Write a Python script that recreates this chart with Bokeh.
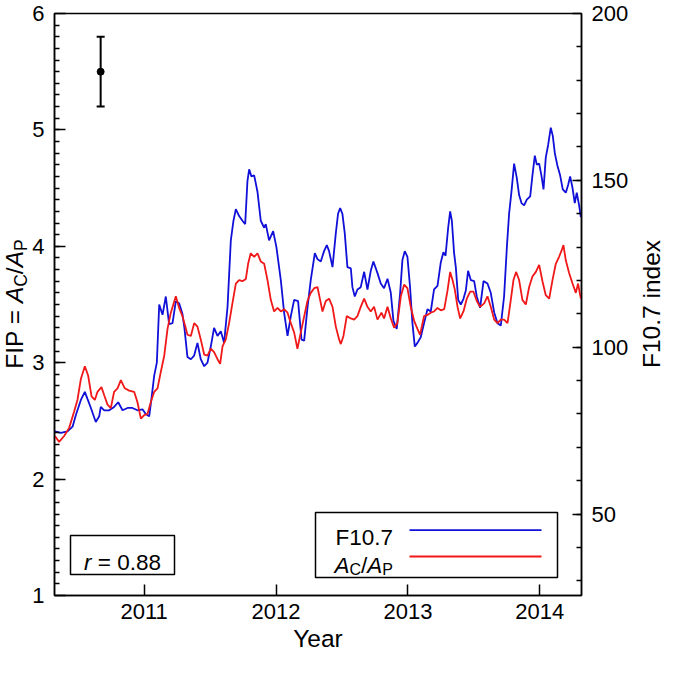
import math
from bokeh.plotting import figure
from bokeh.layouts import row
from bokeh.models import (Range1d, LinearAxis, FixedTicker, Label, BoxAnnotation,
                          Arrow, Whisker, ColumnDataSource, TeeHead, Div)
from bokeh.embed import file_html
from bokeh.resources import INLINE

# ---------------- data ----------------
f107_years = [2010.323, 2010.368, 2010.419, 2010.457, 2010.482, 2010.520, 2010.550, 2010.570, 2010.596, 2010.633,
              2010.659, 2010.671, 2010.697, 2010.735, 2010.772, 2010.803, 2010.836, 2010.874, 2010.911, 2010.949,
              2010.987, 2011.012, 2011.038, 2011.055, 2011.076, 2011.096, 2011.114, 2011.139, 2011.164, 2011.189,
              2011.215, 2011.240, 2011.265, 2011.290, 2011.305, 2011.328, 2011.354, 2011.379, 2011.404, 2011.429,
              2011.455, 2011.480, 2011.505, 2011.530, 2011.556, 2011.581, 2011.606, 2011.632, 2011.657, 2011.677,
              2011.695, 2011.720, 2011.745, 2011.766, 2011.783, 2011.796, 2011.813, 2011.834, 2011.859, 2011.884,
              2011.910, 2011.922, 2011.947, 2011.978, 2012.003, 2012.036, 2012.061, 2012.087, 2012.112, 2012.137,
              2012.167, 2012.193, 2012.213, 2012.238, 2012.263, 2012.294, 2012.314, 2012.339, 2012.364, 2012.385,
              2012.402, 2012.428, 2012.453, 2012.470, 2012.486, 2012.503, 2012.521, 2012.541, 2012.567, 2012.579,
              2012.597, 2012.617, 2012.642, 2012.668, 2012.693, 2012.718, 2012.738, 2012.769, 2012.794, 2012.819,
              2012.845, 2012.870, 2012.890, 2012.915, 2012.941, 2012.958, 2012.976, 2012.996, 2013.016, 2013.034,
              2013.052, 2013.072, 2013.097, 2013.122, 2013.148, 2013.173, 2013.198, 2013.224, 2013.249, 2013.269,
              2013.285, 2013.305, 2013.320, 2013.333, 2013.350, 2013.363, 2013.381, 2013.401, 2013.421, 2013.439,
              2013.456, 2013.477, 2013.502, 2013.522, 2013.547, 2013.573, 2013.603, 2013.628, 2013.654, 2013.679,
              2013.704, 2013.729, 2013.750, 2013.767, 2013.785, 2013.805, 2013.825, 2013.843, 2013.861, 2013.881,
              2013.901, 2013.927, 2013.944, 2013.962, 2013.977, 2013.995, 2014.012, 2014.028, 2014.045, 2014.063,
              2014.083, 2014.098, 2014.114, 2014.134, 2014.154, 2014.174, 2014.197, 2014.215, 2014.230, 2014.248,
              2014.265, 2014.280, 2014.298, 2014.311]
f107_index = [74.8, 74.3, 74.8, 76.2, 79.7, 84.2, 86.6, 84.5, 81.8, 77.6,
              79.3, 82.1, 81.1, 81.1, 82.1, 83.5, 81.1, 81.8, 81.8, 81.1,
              81.4, 80.0, 79.3, 84.5, 91.5, 95.4, 112.8, 109.7, 115.2, 106.9,
              107.2, 113.8, 113.2, 110.0, 105.8, 97.1, 96.4, 97.5, 101.3, 96.4,
              94.3, 95.4, 100.2, 105.8, 103.4, 104.8, 101.3, 112.1, 132.0, 137.9,
              141.4, 139.3, 137.9, 136.9, 149.8, 153.3, 151.2, 151.5, 146.6, 137.9,
              135.8, 136.9, 132.0, 134.8, 129.9, 120.1, 110.4, 103.4, 109.3, 114.2,
              113.8, 102.3, 102.0, 111.8, 120.1, 128.2, 126.4, 125.7, 128.8, 130.6,
              128.8, 124.0, 134.1, 140.0, 141.7, 140.0, 134.1, 124.0, 123.6, 118.0,
              115.2, 117.3, 118.0, 122.6, 117.3, 122.9, 125.7, 122.2, 119.1, 117.7,
              120.5, 116.3, 107.9, 105.5, 116.3, 126.1, 128.8, 127.1, 118.0, 107.2,
              100.2, 101.3, 103.0, 107.2, 111.4, 110.7, 117.3, 118.4, 125.4, 128.5,
              127.4, 135.8, 140.7, 137.9, 128.2, 124.0, 114.2, 112.8, 114.5, 117.0,
              122.9, 120.1, 119.8, 115.2, 111.8, 119.8, 119.1, 116.3, 110.4, 107.2,
              106.5, 115.2, 129.9, 140.0, 146.6, 155.0, 150.8, 145.6, 143.2, 142.5,
              144.2, 145.2, 151.5, 157.4, 154.7, 155.0, 151.5, 147.3, 156.8, 160.6,
              165.8, 163.4, 158.1, 154.3, 151.5, 147.3, 146.3, 148.7, 151.2, 147.7,
              143.2, 146.3, 142.5, 139.0]

fip_years = [2010.323, 2010.355, 2010.393, 2010.431, 2010.469, 2010.494, 2010.520, 2010.550, 2010.575, 2010.601,
             2010.626, 2010.646, 2010.676, 2010.697, 2010.722, 2010.747, 2010.772, 2010.798, 2010.823, 2010.853,
             2010.886, 2010.924, 2010.949, 2010.975, 2011.000, 2011.025, 2011.050, 2011.076, 2011.101, 2011.126,
             2011.152, 2011.177, 2011.202, 2011.240, 2011.265, 2011.290, 2011.310, 2011.328, 2011.354, 2011.379,
             2011.404, 2011.429, 2011.455, 2011.480, 2011.505, 2011.530, 2011.556, 2011.576, 2011.594, 2011.619,
             2011.644, 2011.669, 2011.695, 2011.720, 2011.745, 2011.771, 2011.788, 2011.808, 2011.834, 2011.859,
             2011.884, 2011.910, 2011.935, 2011.960, 2011.985, 2012.011, 2012.036, 2012.061, 2012.087, 2012.112,
             2012.137, 2012.162, 2012.182, 2012.208, 2012.238, 2012.263, 2012.289, 2012.314, 2012.334, 2012.352,
             2012.377, 2012.402, 2012.428, 2012.453, 2012.478, 2012.491, 2012.511, 2012.536, 2012.567, 2012.592,
             2012.617, 2012.642, 2012.668, 2012.693, 2012.718, 2012.743, 2012.769, 2012.799, 2012.819, 2012.845,
             2012.870, 2012.895, 2012.920, 2012.946, 2012.971, 2012.996, 2013.021, 2013.047, 2013.072, 2013.092,
             2013.122, 2013.148, 2013.173, 2013.198, 2013.224, 2013.249, 2013.275, 2013.300, 2013.320, 2013.338,
             2013.355, 2013.376, 2013.396, 2013.421, 2013.446, 2013.472, 2013.497, 2013.522, 2013.547, 2013.578,
             2013.603, 2013.628, 2013.654, 2013.679, 2013.704, 2013.729, 2013.755, 2013.780, 2013.800, 2013.820,
             2013.843, 2013.868, 2013.894, 2013.919, 2013.944, 2013.970, 2013.995, 2014.020, 2014.045, 2014.071,
             2014.096, 2014.121, 2014.146, 2014.164, 2014.179, 2014.197, 2014.222, 2014.248, 2014.273, 2014.290,
             2014.311]
fip_ratio = [2.37, 2.32, 2.37, 2.44, 2.58, 2.68, 2.86, 2.97, 2.89, 2.71,
             2.68, 2.75, 2.79, 2.72, 2.64, 2.61, 2.75, 2.78, 2.85, 2.78,
             2.76, 2.75, 2.66, 2.52, 2.55, 2.56, 2.66, 2.75, 2.78, 2.92,
             3.06, 3.29, 3.43, 3.57, 3.47, 3.40, 3.32, 3.24, 3.23, 3.34,
             3.31, 3.20, 3.07, 3.06, 3.12, 3.09, 3.03, 2.99, 3.14, 3.20,
             3.34, 3.51, 3.68, 3.71, 3.70, 3.72, 3.85, 3.94, 3.91, 3.94,
             3.87, 3.85, 3.71, 3.54, 3.44, 3.47, 3.44, 3.46, 3.43, 3.34,
             3.26, 3.12, 3.23, 3.37, 3.53, 3.60, 3.64, 3.65, 3.54, 3.44,
             3.53, 3.55, 3.48, 3.31, 3.20, 3.16, 3.23, 3.40, 3.38, 3.37,
             3.40, 3.48, 3.55, 3.48, 3.44, 3.48, 3.37, 3.43, 3.38, 3.48,
             3.38, 3.30, 3.34, 3.57, 3.67, 3.64, 3.48, 3.36, 3.29, 3.24,
             3.40, 3.41, 3.43, 3.44, 3.47, 3.45, 3.46, 3.62, 3.78, 3.71,
             3.63, 3.48, 3.38, 3.44, 3.55, 3.61, 3.61, 3.53, 3.48, 3.51,
             3.57, 3.48, 3.37, 3.34, 3.37, 3.37, 3.34, 3.54, 3.71, 3.78,
             3.71, 3.54, 3.50, 3.65, 3.74, 3.78, 3.84, 3.70, 3.58, 3.55,
             3.71, 3.85, 3.91, 3.96, 4.01, 3.88, 3.77, 3.68, 3.60, 3.68,
             3.55]

err_year = [2010.67]
err_fip = [5.5]
err_low = [5.2]
err_high = [5.8]
r_value = 0.88

year_ticks = [2011, 2012, 2013, 2014]
fip_ticks = [1, 2, 3, 4, 5, 6]
fip_minor = [round(1 + 0.1 * i, 1) for i in range(1, 50)]
f107_ticks = [50, 100, 150, 200]
f107_minor = list(range(30, 200, 10))

# ---------------- layout ----------------
FONT = "Liberation Sans"
FS = 22          # tick labels
TS = 24.5        # axis titles
BS = 22.5        # text inside boxes
SUB = 16
TSUB = 17.5
H = 659
LEFT_W, RIGHT_W = 28, 27
W = 659 - LEFT_W - RIGHT_W
ML, MR, MT, MB = 26, 51, 13, 64
BLUE = "#1010d8"
RED = "#f01818"
LW = 1.8

p = figure(width=W, height=H, output_backend="svg", toolbar_location=None,
           x_range=Range1d(2010.32, 2014.316), y_range=Range1d(1, 6),
           min_border_left=ML, min_border_right=MR, min_border_top=MT, min_border_bottom=MB)
p.grid.visible = False
p.outline_line_color = "black"
p.outline_line_width = 1.5
p.background_fill_color = "white"
p.border_fill_color = "white"

p.extra_y_ranges = {"f107": Range1d(25.6, 200)}
right = LinearAxis(y_range_name="f107")
p.add_layout(right, "right")

xa = p.xaxis[0]
ya = p.yaxis[0]
xa.ticker = FixedTicker(ticks=year_ticks, minor_ticks=[])
ya.ticker = FixedTicker(ticks=fip_ticks, minor_ticks=fip_minor)
right.ticker = FixedTicker(ticks=f107_ticks, minor_ticks=f107_minor)

for ax, tin, min_in in ((xa, 11, 0), (ya, 11, 5), (right, 9, 5)):
    ax.major_tick_in = tin
    ax.major_tick_out = 0
    ax.minor_tick_in = min_in
    ax.minor_tick_out = 0
    ax.axis_line_width = 1.5
    ax.major_tick_line_width = 1.5
    ax.minor_tick_line_width = 1.5
    ax.axis_line_color = "black"
    ax.major_tick_line_color = "black"
    ax.minor_tick_line_color = "black"
    ax.major_label_text_font = FONT
    ax.major_label_text_font_size = f"{FS}px"
    ax.major_label_text_color = "black"
    ax.major_label_standoff = 10
xa.major_label_standoff = 8

xa.axis_label = "Year"
xa.axis_label_text_font = FONT
xa.axis_label_text_font_size = f"{TS}px"
xa.axis_label_text_font_style = "normal"
xa.axis_label_text_color = "black"
xa.axis_label_standoff = 3

# ---------------- series ----------------
p.line(f107_years, f107_index, y_range_name="f107", line_color=BLUE, line_width=LW)
p.line(fip_years, fip_ratio, line_color=RED, line_width=LW)

# error bar
src = ColumnDataSource(dict(x=err_year, y=err_fip, lo=err_low, hi=err_high))
p.add_layout(Whisker(source=src, base="x", upper="hi", lower="lo", dimension="height",
                     line_width=2, line_color="black",
                     upper_head=TeeHead(size=8, line_width=2, line_color="black"),
                     lower_head=TeeHead(size=8, line_width=2, line_color="black")))
p.scatter("x", "y", source=src, size=7, color="black")

# ---------------- text helpers (screen units, relative to frame bottom-left) ----------------
WID = {'F': .611, 'I': .278, 'P': .667, ' ': .278, '=': .584, 'A': .667, 'C': .722, '/': .278,
       'r': .333, '0': .556, '8': .556, '.': .278, '1': .556, '7': .556}


def tw(s, size):
    return sum(WID.get(c, .556) for c in s) * size


def rich(pieces, x, y):
    pos = 0.0
    for text, size, italic, shift in pieces:
        shown = text.strip()
        lead = tw(text[:len(text) - len(text.lstrip())], size)
        p.add_layout(Label(x=x + pos + lead, y=y - shift, x_units="screen", y_units="screen", text=shown,
                           text_font=FONT, text_font_size=f"{size}px",
                           text_font_style="italic" if italic else "normal",
                           text_align="left", text_baseline="alphabetic", text_color="black"))
        pos += tw(text, size)


BOX = dict(left_units="screen", right_units="screen", bottom_units="screen", top_units="screen",
           fill_color="white", fill_alpha=1, line_color="black", line_alpha=1, line_width=1.5)

# correlation box
p.add_layout(BoxAnnotation(left=16, right=120, bottom=21, top=60, **BOX))
rpieces = [("r", BS, True, 0), (" = " + f"{r_value:.2f}", BS, False, 0)]
rtot = sum(tw(t, s) for t, s, _, _ in rpieces)
rich(rpieces, 68 - rtot / 2, 33)

# legend box
p.add_layout(BoxAnnotation(left=261, right=503, bottom=18, top=83, **BOX))
rich([("F10.7", BS, False, 0)], 281, 58)
rich([("A", BS, True, 0), ("C", SUB, False, 4), ("/", BS, False, 0),
      ("A", BS, True, 0), ("P", SUB, False, 4)], 280, 30)
p.add_layout(Arrow(x_start=355, y_start=65.3, x_end=487, y_end=65.3,
                   start_units="screen", end_units="screen", start=None, end=None,
                   line_color=BLUE, line_width=LW))
p.add_layout(Arrow(x_start=355, y_start=39, x_end=487, y_end=39,
                   start_units="screen", end_units="screen", start=None, end=None,
                   line_color=RED, line_width=LW))

# ---------------- vertical axis titles (HTML text, rotated) ----------------
FRAME_MID = MT + (H - MT - MB) / 2


def vlabel(html, width, dx):
    return Div(text=(
        f'<div style="width:{width}px;height:{H}px;position:relative;overflow:visible;">'
        f'<div style="position:absolute;left:{width / 2 + dx}px;top:{FRAME_MID}px;'
        f'transform:translate(-50%,-50%) rotate(-90deg);white-space:nowrap;'
        f"font-family:'{FONT}';font-size:{TS}px;line-height:1;color:black;\">{html}</div></div>"),
        width=width, height=H, margin=0, styles={"overflow": "visible"})


sub = f'<sub style="font-size:{TSUB}px;vertical-align:-4px;line-height:0;">'
left_title = vlabel(f'FIP = <i>A</i>{sub}C</sub>/<i>A</i>{sub}P</sub>', LEFT_W, 1)
right_title = vlabel('F10.7 index', RIGHT_W, 6)

layout = row(left_title, p, right_title, spacing=0)
open("out.html", "w").write(file_html(layout, INLINE))
